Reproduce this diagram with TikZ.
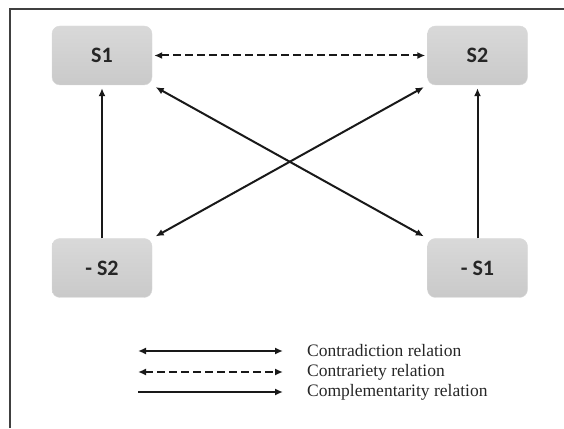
\documentclass[tikz,border=0pt]{standalone}
\usepackage{fontspec}
\setmainfont{Liberation Serif}
\newfontfamily\boxfont{Carlito}
\usetikzlibrary{arrows.meta}

\begin{document}
\begin{tikzpicture}[x=1pt, y=1pt, >={Latex[length=8pt,width=7pt]},
        sbox/.style={rounded corners=8pt, top color=gray!30, bottom color=gray!42, draw=gray!30,
            minimum width=100pt, minimum height=59pt,
            font=\boxfont\bfseries\fontsize{22}{22}\selectfont, text=black!85},
        rel/.style={line width=2pt, black!90},
        legtext/.style={anchor=west, inner sep=0pt, font=\fontsize{17.5}{17.5}\selectfont, text=black!85}]
    \useasboundingbox (0,0) rectangle (564,428);
    % frame
    \draw[line width=1.5pt, black!75] (10,0) -- (10,419) -- (564,419);

    % statements
    \node[sbox] (s1)  at (102,372.5) {S1};
    \node[sbox] (s2)  at (477.5,372.5) {S2};
    \node[sbox] (ns2) at (102,160) {- S2};
    \node[sbox] (ns1) at (477.5,160) {- S1};

    % relations
    \draw[rel, <->, dash pattern=on 8pt off 4pt, shorten <=2pt, shorten >=2pt] (s1.east) -- (s2.west);
    \draw[rel, <->, shorten <=4pt, shorten >=4pt] (s1.south east) -- (ns1.north west);
    \draw[rel, <->, shorten <=4pt, shorten >=4pt] (s2.south west) -- (ns2.north east);
    \draw[rel, ->, shorten >=3pt] (ns2.north) -- (s1.south);
    \draw[rel, ->, shorten >=3pt] (ns1.north) -- (s2.south);

    % legend
    \coordinate (l1a) at (138,77);  \coordinate (l1b) at (283,77);
    \coordinate (l2a) at (138,56);  \coordinate (l2b) at (283,56);
    \coordinate (l3a) at (138,36);  \coordinate (l3b) at (283,36);
    \draw[rel, <->] (l1a) -- (l1b);
    \draw[rel, <->, dash pattern=on 8pt off 4pt] (l2a) -- (l2b);
    \draw[rel, ->] (l3a) -- (l3b);
    \node[legtext] (t1) at (307,77) {Contradiction relation};
    \node[legtext] (t2) at (307,56) {Contrariety relation};
    \node[legtext] (t3) at (307,36) {Complementarity relation};
\end{tikzpicture}
\end{document}
